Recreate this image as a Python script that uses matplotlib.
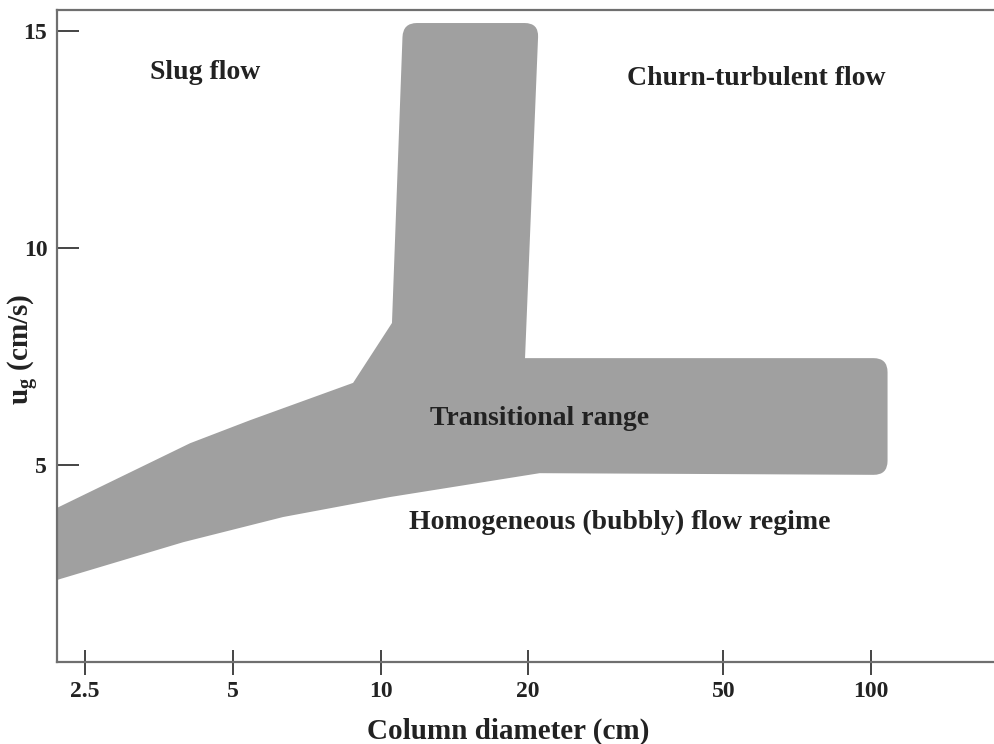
import numpy as np
import matplotlib
matplotlib.use("Agg")
import matplotlib.pyplot as plt
from matplotlib.path import Path
from matplotlib.patches import PathPatch
from matplotlib.transforms import IdentityTransform

plt.rcParams["font.family"] = ["Liberation Serif", "DejaVu Serif"]
plt.rcParams["font.weight"] = "bold"
plt.rcParams["axes.labelweight"] = "bold"
plt.rcParams["mathtext.fontset"] = "custom"
plt.rcParams["mathtext.rm"] = "Liberation Serif:bold"
plt.rcParams["mathtext.bf"] = "Liberation Serif:bold"
plt.rcParams["mathtext.it"] = "Liberation Serif:bold"

# Outline of the transitional range (column diameter in cm, gas velocity in cm/s)
boundary_d = [2.19, 4.09, 5.42, 8.79, 10.55, 11.11, 21.0, 19.7, 108.0, 108.0,
              21.1, 10.45, 6.33, 3.96, 2.19]
boundary_u = [4.02, 5.51, 6.04, 6.90, 8.28, 15.19, 15.19, 7.47, 7.47, 4.78,
              4.82, 4.27, 3.81, 3.23, 2.36]
rounded_vertices = [5, 6, 8, 9]

x_ticks = [2.5, 5, 10, 20, 50, 100]
x_tick_labels = ["2.5", "5", "10", "20", "50", "100"]
y_ticks = [5, 10, 15]
y_tick_labels = ["5", "10", "15"]

region_labels = ["Slug flow", "Churn-turbulent flow", "Transitional range",
                 "Homogeneous (bubbly) flow regime"]
region_d = [4.39, 58.2, 21.1, 30.8]
region_u = [14.04, 13.92, 6.09, 3.69]

fig = plt.figure(figsize=(9.94, 7.44), dpi=100)
ax = fig.add_axes([57 / 994, 82 / 744, 1 - 57 / 994, 652 / 744])
ax.set_xscale("log")
ax.set_xlim(2.19, 178)
ax.set_ylim(0.47, 15.49)

spine_color = "#6f6f6f"
for side in ("left", "bottom", "top"):
    ax.spines[side].set_color(spine_color)
    ax.spines[side].set_linewidth(1.6)
ax.spines["right"].set_visible(False)

ax.set_xticks(x_ticks)
ax.set_xticklabels(x_tick_labels)
ax.xaxis.set_minor_locator(matplotlib.ticker.NullLocator())
ax.set_yticks(y_ticks)
ax.set_yticklabels(y_tick_labels)
ax.tick_params(axis="x", direction="inout", length=18, width=1.4, color="#444444",
               labelsize=17, pad=5, labelcolor="#222222")
ax.tick_params(axis="y", direction="in", length=16, width=1.4, color="#444444",
               labelsize=17, pad=7, labelcolor="#222222")

ax.set_xlabel("Column diameter (cm)", fontsize=21, fontweight="bold",
              color="#222222")
ax.xaxis.set_label_coords(0.481, -0.085)
ax.set_ylabel(r"$\mathbf{u_g}$ (cm/s)", fontsize=21, fontweight="bold",
              color="#222222")
ax.yaxis.set_label_coords(-0.017, 0.48)


def outline_path(xs, ys, rounded, radius):
    pts = ax.transData.transform(np.column_stack([xs, ys]))
    n = len(pts)
    verts, codes = [], []
    for i, p in enumerate(pts):
        if i in rounded:
            prev_p = pts[i - 1]
            next_p = pts[(i + 1) % n]
            d1 = (prev_p - p) / np.linalg.norm(prev_p - p)
            d2 = (next_p - p) / np.linalg.norm(next_p - p)
            verts += [p + d1 * radius, p, p + d2 * radius]
            codes += [Path.LINETO, Path.CURVE3, Path.CURVE3]
        else:
            verts.append(p)
            codes.append(Path.LINETO)
    codes[0] = Path.MOVETO
    verts.append(verts[0])
    codes.append(Path.CLOSEPOLY)
    return Path(verts, codes)


band = PathPatch(outline_path(boundary_d, boundary_u, rounded_vertices, 14),
                 facecolor="#a0a0a0", edgecolor="none",
                 transform=IdentityTransform(), zorder=1)
ax.add_patch(band)
band.set_clip_path(ax.patch)
ax.set_xlim(2.19, 178)
ax.set_ylim(0.47, 15.49)

for text, d, u in zip(region_labels, region_d, region_u):
    ax.text(d, u, text, ha="center", va="center", fontsize=20,
            color="#222222", zorder=3)

fig.savefig("out.png", dpi=100)
